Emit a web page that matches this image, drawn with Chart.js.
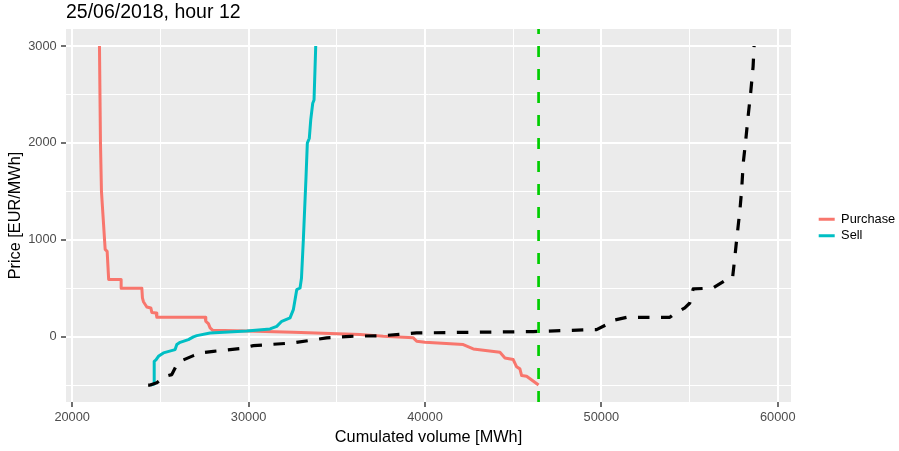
<!DOCTYPE html>
<html><head><meta charset="utf-8">
<script src="https://cdn.jsdelivr.net/npm/chart.js@4"></script>
<style>html,body{margin:0;padding:0;background:#fff}canvas{display:block}</style>
</head><body>
<canvas id="c" width="899" height="451"></canvas>
<script>
const chartTitle = '25/06/2018, hour 12';
const xAxisTitle = 'Cumulated volume [MWh]';
const yAxisTitle = 'Price [EUR/MWh]';
const seriesNames = ['Purchase', 'Sell'];

const purchaseVolume = [21547, 21604, 21660, 21870, 21983, 22068, 22776, 22776, 23949, 23983, 24040, 24232, 24459, 24516, 24759, 24799, 27535, 27575, 27722, 27819, 27972, 29898, 32538, 36317, 37637, 39337, 39530, 40000, 42170, 42737, 44249, 44533, 45003, 45196, 45382, 45479, 45762, 46440];
const purchasePrice = [3000, 2000, 1500, 900, 880, 590, 590, 500, 500, 400, 360, 306, 296, 250, 244, 200, 200, 158, 134, 90, 65, 59, 44, 21, 3, -13, -48, -59, -82, -127, -162, -220, -237, -312, -333, -402, -409, -500];

const sellVolume = [24450, 24640, 24650, 24750, 24890, 25173, 25836, 25932, 26119, 26589, 26873, 27065, 27819, 29898, 31218, 31598, 31881, 32351, 32538, 32730, 32918, 33000, 33105, 33258, 33331, 33444, 33524, 33637, 33711, 33807];
const sellPrice = [-500, -490, -255, -240, -203, -168, -134, -82, -59, -31, -3, 10, 38, 59, 79, 106, 158, 193, 278, 485, 502, 605, 1000, 1653, 1997, 2048, 2237, 2409, 2443, 3000];

const curveVolume = [24306, 24420, 24799, 25269, 25648, 25932, 26119, 26873, 27252, 28006, 29612, 30272, 32538, 34431, 35751, 37637, 39530, 42363, 46136, 49535, 49728, 50482, 50671, 51427, 53881, 54068, 54731, 55014, 55204, 56336, 57096, 57436, 57572, 57668, 57856, 57952, 58042, 58187, 58317, 58470, 58601, 58657];
const curvePrice = [-500, -500, -477, -409, -392, -289, -255, -196, -168, -152, -121, -93, -65, -13, 3, 10, 38, 44, 52, 72, 72, 141, 168, 199, 199, 227, 296, 347, 492, 502, 588, 605, 828, 1000, 1309, 1515, 1791, 2031, 2271, 2529, 2787, 3000];

const equilibriumVolume = 46440;

const xRange = [19650, 60750];
const yRange = [-675, 3175];
const xTicks = [20000, 25000, 30000, 35000, 40000, 45000, 50000, 55000, 60000];
const xTickLabels = ['20000', '', '30000', '', '40000', '', '50000', '', '60000'];
const yTicks = [-500, 0, 500, 1000, 1500, 2000, 2500, 3000];
const yTickLabels = ['', '0', '', '1000', '', '2000', '', '3000'];

const FONT = "'Liberation Sans', Arial, Helvetica, sans-serif";
Chart.defaults.font.family = FONT;

const pts = (xs, ys) => xs.map((x, i) => ({x: x, y: ys[i]}));

const panelBg = {
  id: 'panelBg',
  beforeDraw(chart) {
    const {ctx, chartArea: a} = chart;
    ctx.save();
    ctx.fillStyle = '#EBEBEB';
    ctx.fillRect(a.left, a.top, a.right - a.left, a.bottom - a.top);
    ctx.restore();
  }
};

const legendPlace = {
  id: 'legendPlace',
  beforeLayout(chart) {
    const lg = chart.legend;
    if (lg && !lg.__patched) {
      const fit = lg.fit;
      lg.fit = function () { fit.call(this); this.width = 108; };
      lg.__patched = true;
    }
  },
  afterLayout(chart) {
    const lg = chart.legend;
    if (!lg) return;
    lg.left += 24; lg.right += 24;
    lg.top += 2; lg.bottom += 2;
  }
};

const gridOpts = (isMajor) => ({
  color: '#FFFFFF',
  lineWidth: (c) => (c.tick && isMajor(c.tick.value)) ? 2 : 1,
  tickLength: 5,
  tickWidth: 1.4,
  tickColor: (c) => (c.tick && isMajor(c.tick.value)) ? '#333333' : 'rgba(0,0,0,0)'
});

new Chart(document.getElementById('c'), {
  type: 'line',
  data: {
    datasets: [
      {
        label: seriesNames[0],
        data: pts(purchaseVolume, purchasePrice),
        borderColor: '#F8766D', backgroundColor: '#F8766D',
        borderWidth: 3, pointRadius: 0, tension: 0, order: 3,
        borderJoinStyle: 'round'
      },
      {
        label: seriesNames[1],
        data: pts(sellVolume, sellPrice),
        borderColor: '#00BFC4', backgroundColor: '#00BFC4',
        borderWidth: 3, pointRadius: 0, tension: 0, order: 2,
        borderJoinStyle: 'round'
      },
      {
        label: 'curve',
        data: pts(curveVolume, curvePrice),
        borderColor: '#000000', backgroundColor: '#000000',
        borderWidth: 3.2, borderDash: [11.5, 11.5], pointRadius: 0, tension: 0, order: 1,
        borderJoinStyle: 'round'
      },
      {
        label: 'equilibrium',
        data: [{x: equilibriumVolume, y: yRange[0]}, {x: equilibriumVolume, y: yRange[1]}],
        borderColor: '#00CD00', backgroundColor: '#00CD00',
        borderWidth: 2.7, borderDash: [11, 12], pointRadius: 0, tension: 0, order: 0
      }
    ]
  },
  options: {
    responsive: false,
    animation: false,
    devicePixelRatio: 1,
    layout: {padding: 0},
    events: [],
    plugins: {
      title: {
        display: true,
        text: chartTitle,
        align: 'start',
        fullSize: false,
        color: '#000000',
        font: {size: 19.5, weight: 'normal', lineHeight: 1.13},
        padding: {top: 1.5, bottom: 5.5}
      },
      legend: {
        display: true,
        position: 'right',
        align: 'center',
        labels: {
          usePointStyle: true,
          pointStyle: 'line',
          pointStyleWidth: 16,
          padding: 3.7,
          color: '#000000',
          font: {size: 12.8},
          filter: (item) => seriesNames.includes(item.text),
          sort: (a, b) => a.datasetIndex - b.datasetIndex
        }
      },
      tooltip: {enabled: false}
    },
    scales: {
      x: {
        type: 'linear',
        min: xRange[0], max: xRange[1],
        afterBuildTicks: (s) => { s.ticks = xTicks.map(v => ({value: v})); },
        afterFit: (s) => { s.height = 49; },
        ticks: {
          callback: (v, i) => xTickLabels[i],
          autoSkip: false, maxRotation: 0, minRotation: 0,
          color: '#4D4D4D', font: {size: 12.8}, padding: 2.6
        },
        grid: gridOpts(v => v % 10000 === 0),
        border: {display: false},
        title: {
          display: true, text: xAxisTitle, color: '#000000',
          font: {size: 16.3}, padding: {top: 0, bottom: 4.2}
        }
      },
      y: {
        type: 'linear',
        min: yRange[0], max: yRange[1],
        afterBuildTicks: (s) => { s.ticks = yTicks.map(v => ({value: v})); },
        afterFit: (s) => { s.width = 66; },
        ticks: {
          callback: (v, i) => yTickLabels[i],
          autoSkip: false,
          color: '#4D4D4D', font: {size: 12.8}, padding: 4.3
        },
        grid: gridOpts(v => v % 1000 === 0),
        border: {display: false},
        title: {
          display: true, text: yAxisTitle, color: '#000000',
          font: {size: 16.3}, padding: {top: 6.2, bottom: 0}
        }
      }
    }
  },
  plugins: [panelBg, legendPlace]
});
</script>
</body></html>
